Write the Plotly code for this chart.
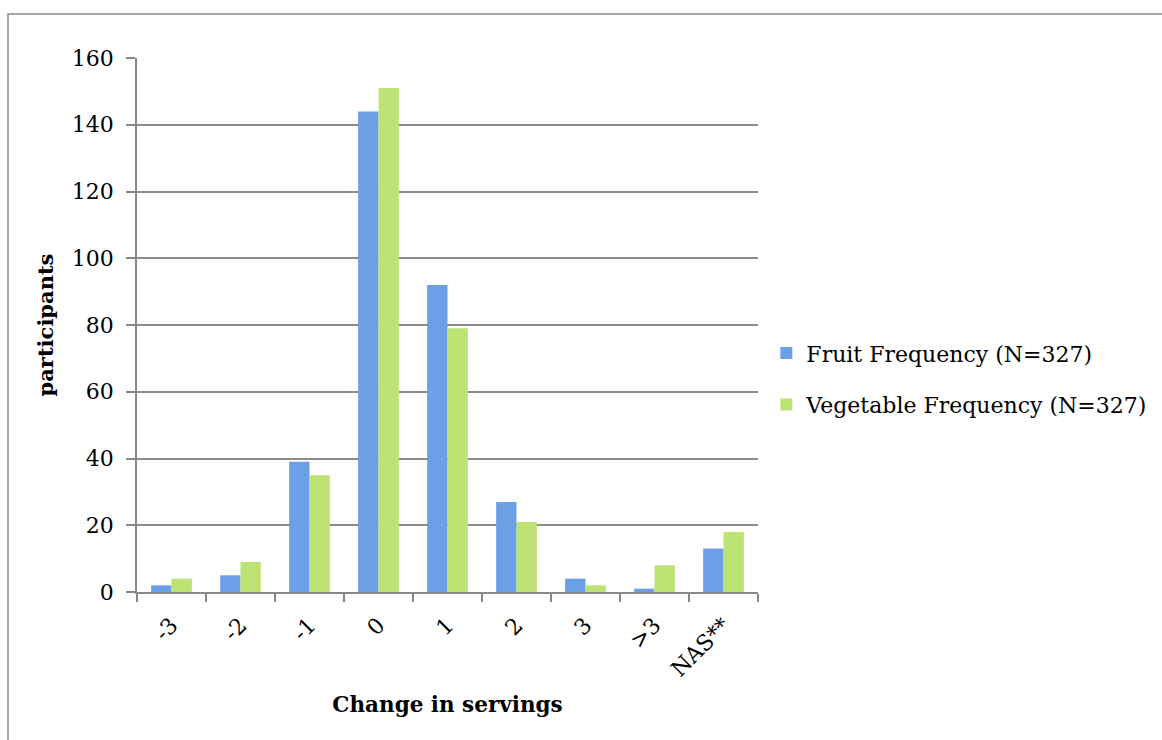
import plotly.graph_objects as go

categories = ["-3", "-2", "-1", "0", "1", "2", "3", ">3", "NAS**"]
fruit = [2, 5, 39, 144, 92, 27, 4, 1, 13]
veg = [4, 9, 35, 151, 79, 21, 2, 8, 18]
y_ticks = [0, 20, 40, 60, 80, 100, 120, 140, 160]

FONT = "DejaVu Serif"
W, H = 1162, 740
L, R, T, B = 137, 404, 57.5, 148
pw, ph = W - L - R, H - T - B

fig = go.Figure()
fig.add_trace(go.Bar(x=categories, y=fruit, name="Fruit Frequency (N=327)",
                     marker=dict(color="#6b9fe6", line=dict(width=0)),
                     legendgroup="a"))
fig.add_trace(go.Bar(x=categories, y=veg, name="Vegetable Frequency (N=327)",
                     marker=dict(color="#bde374", line=dict(width=0)),
                     legendgroup="b"))

fig.update_layout(
    width=W, height=H,
    margin=dict(l=L, r=R, t=T, b=B, autoexpand=False),
    paper_bgcolor="white", plot_bgcolor="white",
    barmode="group", bargap=0.41, bargroupgap=0,
    font=dict(family=FONT, size=22, color="black"),
    showlegend=True,
    legend=dict(x=(785 - L) / pw - 0.03, y=(592 - 379) / ph, xanchor="left", yanchor="middle",
                font=dict(size=22), tracegroupgap=20, bgcolor="rgba(0,0,0,0)"),
    xaxis=dict(
        type="category", tickangle=-45, ticks="outside", tickson="boundaries",
        ticklen=8, tickwidth=1.5, tickcolor="#888", showline=True, linecolor="#888",
        linewidth=1.5, showgrid=False, tickfont=dict(size=22), ticklabelstandoff=10,
        title=dict(text="<b>Change in servings</b>", font=dict(size=21.5), standoff=16),
    ),
    yaxis=dict(
        range=[0, 160], tickvals=y_ticks, ticks="outside", ticklen=9, tickwidth=1.5,
        tickcolor="#888", showline=True, linecolor="#888", linewidth=1.5,
        showgrid=True, gridcolor="#8c8c8c", gridwidth=1.5, zeroline=False,
        tickfont=dict(size=22), ticklabelstandoff=8,
        title=dict(text="<b>participants</b>", font=dict(size=21), standoff=12),
    ),
    shapes=[dict(type="rect", xref="paper", yref="paper",
                 x0=(8 - L) / pw, x1=1.8, y0=-0.5, y1=(592 - 13.5) / ph,
                 line=dict(color="#8a8a8a", width=1.5), fillcolor="rgba(0,0,0,0)",
                 layer="below")],
)

fig.write_html("out.html")
